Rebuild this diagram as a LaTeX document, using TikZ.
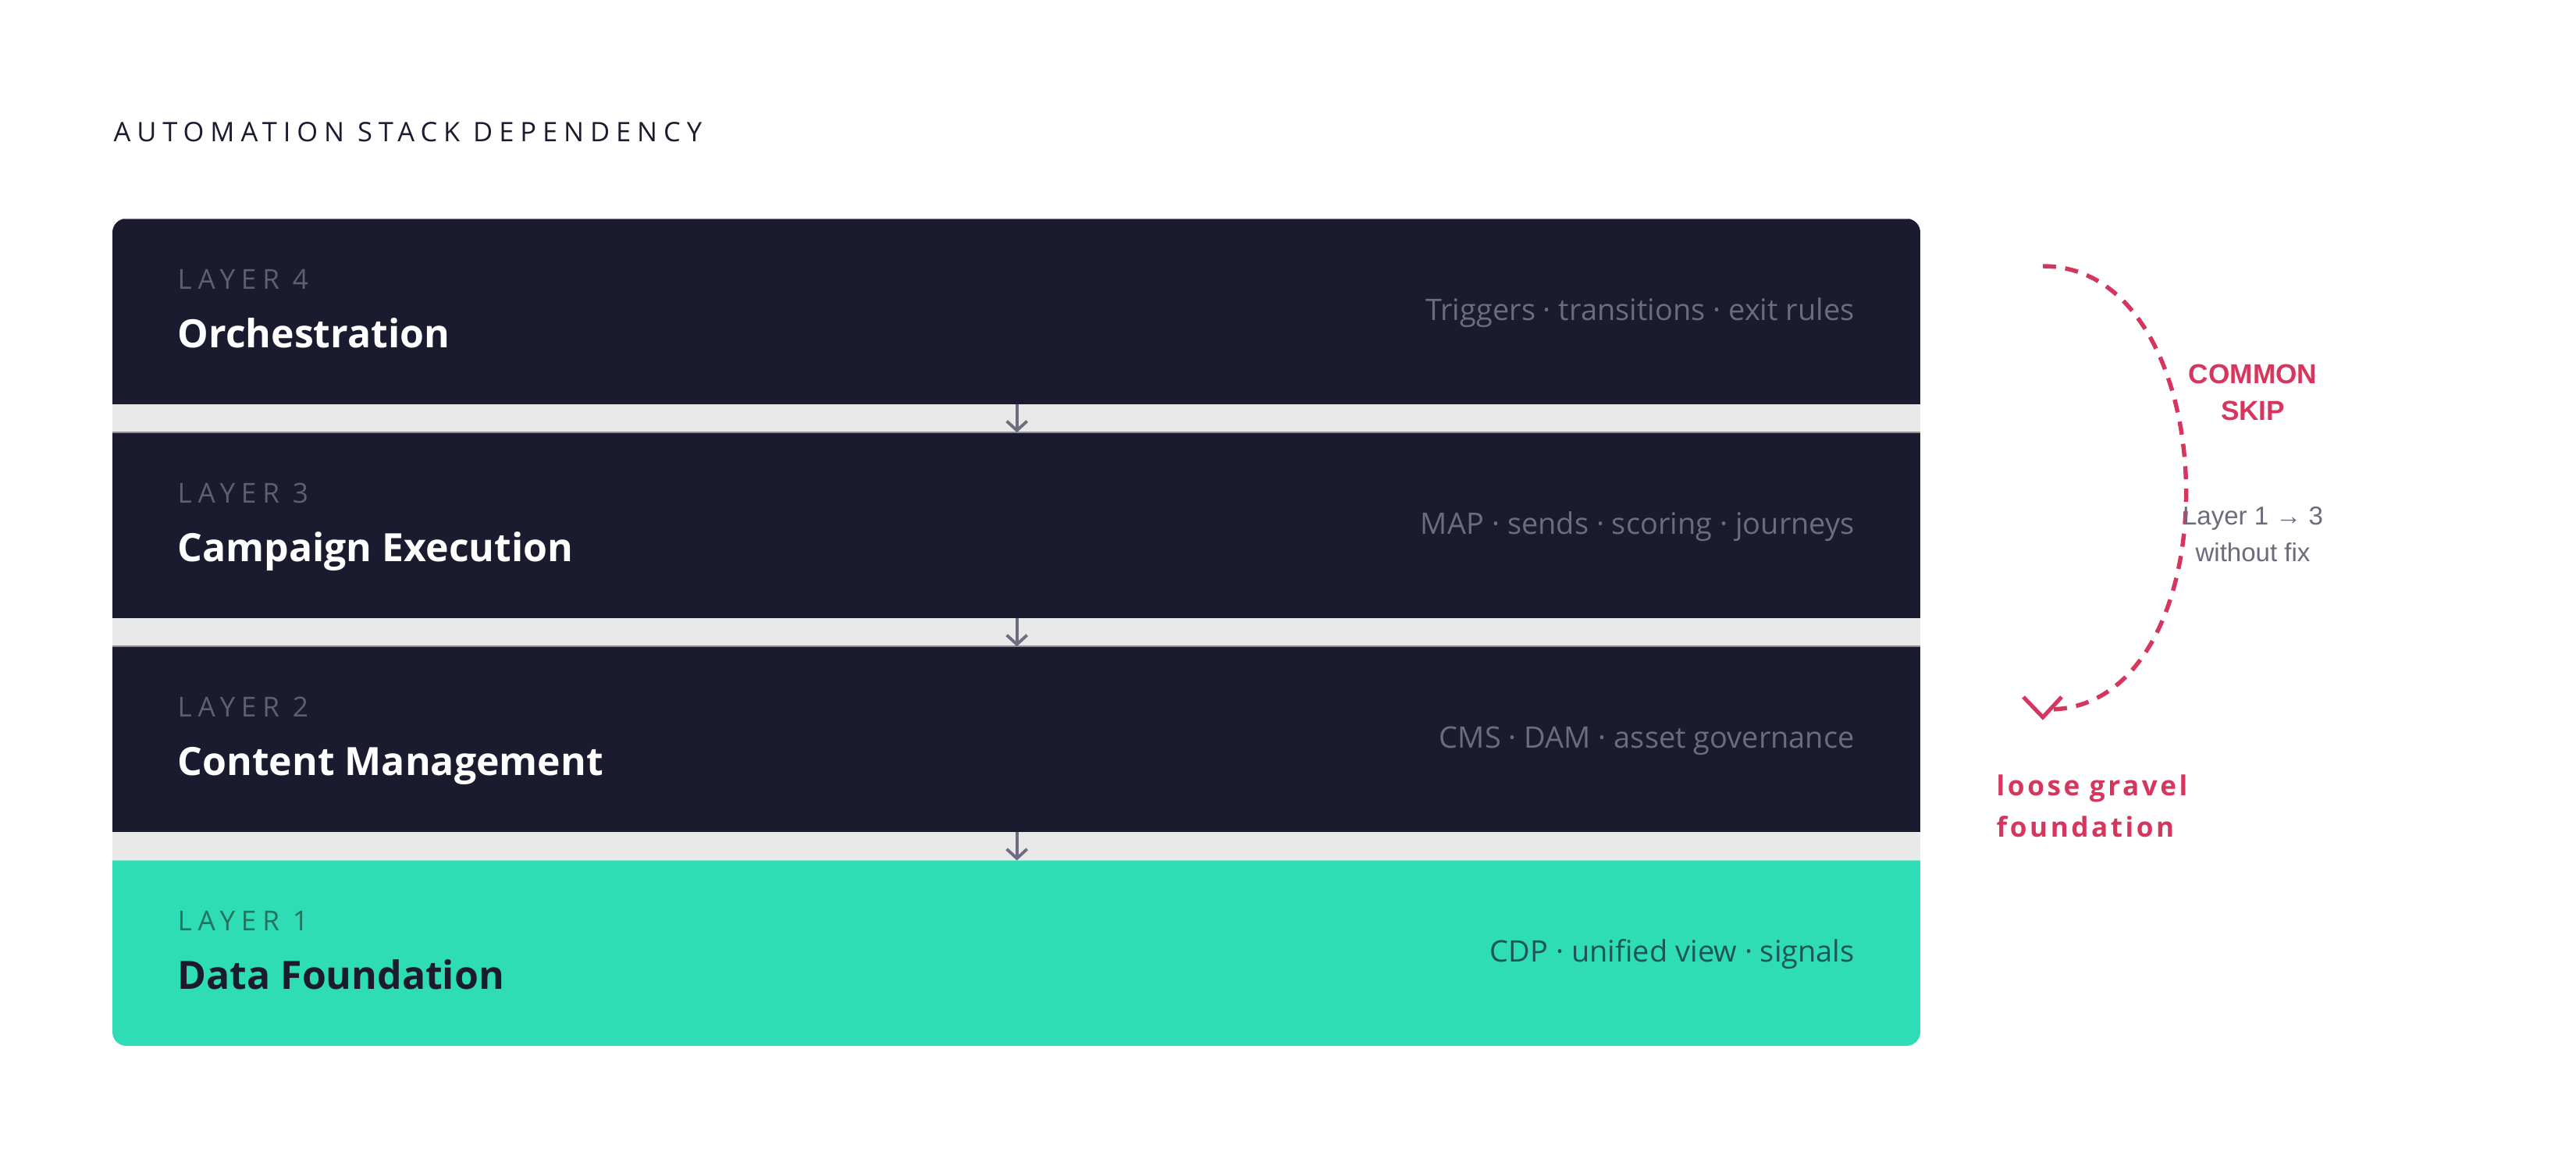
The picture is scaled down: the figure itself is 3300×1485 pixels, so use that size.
\documentclass[tikz,border=0pt]{standalone}
\usepackage{fontspec}
\setmainfont{Open Sans}
\newfontfamily\tagfont[LetterSpace=22]{Open Sans}
\newfontfamily\headfont[LetterSpace=23]{Open Sans}
\newfontfamily\gravelfont[LetterSpace=10]{Open Sans}
\newfontfamily\arialfont{Liberation Sans}
\usetikzlibrary{positioning,arrows.meta}

\definecolor{stacknavy}{HTML}{1B1B2F}
\definecolor{stackteal}{HTML}{2EDCB5}
\definecolor{gapgray}{HTML}{E9E9E9}
\definecolor{edgegray}{HTML}{8C8C9C}
\definecolor{tagnavy}{HTML}{5F5F74}
\definecolor{descnavy}{HTML}{6C6C80}
\definecolor{tagteal}{HTML}{23735F}
\definecolor{descteal}{HTML}{1F5558}
\definecolor{arrowgray}{HTML}{6E6E80}
\definecolor{skipred}{HTML}{D6365E}
\definecolor{notegray}{HTML}{6B6B7B}

\tikzset{
  layerbox/.style={rectangle, fill=stacknavy, minimum width=23.16cm, minimum height=2.38cm,
    inner sep=0pt, outer sep=0pt},
  basebox/.style={layerbox, fill=stackteal},
  layertag/.style={anchor=base west, inner sep=0pt, text=tagnavy,
    font=\tagfont\fontsize{10pt}{12pt}\selectfont},
  layername/.style={anchor=base west, inner sep=0pt, text=white,
    font=\bfseries\fontsize{14.2pt}{17pt}\selectfont},
  layerdesc/.style={anchor=base east, inner sep=0pt, text=descnavy,
    font=\fontsize{10.8pt}{13pt}\selectfont},
  stackarrow/.style={draw=arrowgray, line width=1.1pt, -{Straight Barb[length=3.4pt, width=7.4pt]}},
  skipline/.style={draw=skipred, line width=1.55pt, dash pattern=on 4.8pt off 3.4pt},
  skiphead/.style={draw=skipred, line width=1.45pt},
  skipnote/.style={anchor=base, inner sep=0pt, text=skipred,
    font=\arialfont\bfseries\fontsize{10pt}{12pt}\selectfont},
  sidenote/.style={anchor=base, inner sep=0pt, text=notegray,
    font=\arialfont\fontsize{9.4pt}{11pt}\selectfont},
  gravel/.style={anchor=base west, inner sep=0pt, text=skipred,
    font=\gravelfont\bfseries\fontsize{10pt}{12pt}\selectfont}
}

\begin{document}
\begin{tikzpicture}[x=0.01cm, y=-0.01cm]
  \useasboundingbox (0,0) rectangle (3300,1485);

  \node[anchor=base west, inner sep=0pt, text=stacknavy, font=\headfont\fontsize{9.8pt}{12pt}\selectfont]
    (head) at (145,182) {AUTOMATION STACK DEPENDENCY};

  % the stack
  \begin{scope}
    \clip[rounded corners=5.1pt] (144,280) rectangle (2460,1340);
    \fill[gapgray] (144,280) rectangle (2460,1340);
    \node[layerbox, anchor=north west] (l4) at (144,280) {};
    \node[layerbox, below=0.36cm of l4] (l3) {};
    \node[layerbox, below=0.36cm of l3] (l2) {};
    \node[basebox, below=0.36cm of l2] (l1) {};
    \draw[edgegray, line width=0.5pt] (l4.north west) -- (l4.north east);
    \draw[edgegray, line width=0.5pt] (l3.north west) -- (l3.north east);
    \draw[edgegray, line width=0.5pt] (l2.north west) -- (l2.north east);
    \draw[stackteal!60!white, line width=0.5pt] (l1.north west) -- (l1.north east);
  \end{scope}

  \node[layertag] (tag4) at ([shift={(83,90)}]l4.north west) {LAYER 4};
  \node[layername] (name4) at ([shift={(83,165)}]l4.north west) {Orchestration};
  \node[layerdesc] (desc4) at ([shift={(-85,130)}]l4.north east) {Triggers · transitions · exit rules};

  \node[layertag] (tag3) at ([shift={(83,90)}]l3.north west) {LAYER 3};
  \node[layername] (name3) at ([shift={(83,165)}]l3.north west) {Campaign Execution};
  \node[layerdesc] (desc3) at ([shift={(-85,130)}]l3.north east) {MAP · sends · scoring · journeys};

  \node[layertag] (tag2) at ([shift={(83,90)}]l2.north west) {LAYER 2};
  \node[layername] (name2) at ([shift={(83,165)}]l2.north west) {Content Management};
  \node[layerdesc] (desc2) at ([shift={(-85,130)}]l2.north east) {CMS · DAM · asset governance};

  \node[layertag, text=tagteal] (tag1) at ([shift={(83,90)}]l1.north west) {LAYER 1};
  \node[layername, text=stacknavy] (name1) at ([shift={(83,165)}]l1.north west) {Data Foundation};
  \node[layerdesc, text=descteal] (desc1) at ([shift={(-85,130)}]l1.north east) {CDP · unified view · signals};

  \draw[stackarrow] (l4.south) -- (l3.north);
  \draw[stackarrow] (l3.south) -- (l2.north);
  \draw[stackarrow] (l2.south) -- (l1.north);

  % the skip
  \coordinate (skipfrom) at (2617,341);
  \coordinate (skipto) at (2624,909);
  \coordinate (skiptip) at (2617,919);
  \draw[skipline] (skipfrom) .. controls (2857,341) and (2864,909) .. (skipto);
  \draw[skiphead] ([shift={(-25,-26)}]skiptip) -- (skiptip) -- ([shift={(24,-26)}]skiptip);

  \node[skipnote] (common) at (2886,491) {COMMON};
  \node[skipnote] (skip) at (2886,538) {SKIP};
  \node[sidenote] (jump) at (2886,672) {Layer 1 → 3};
  \node[sidenote] (nofix) at (2886,719) {without fix};
  \node[gravel] (gravel) at (2557,1019) {loose gravel};
  \node[gravel] (found) at (2557,1072) {foundation};
\end{tikzpicture}
\end{document}
